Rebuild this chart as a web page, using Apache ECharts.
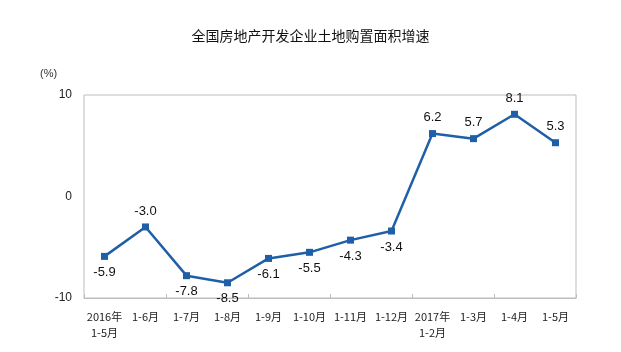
<!DOCTYPE html>
<html>
<head>
<meta charset="utf-8">
<script src="https://cdn.jsdelivr.net/npm/echarts@6/dist/echarts.min.js"></script>
<style>
  html, body { margin: 0; padding: 0; background: #fff; }
  #chart { width: 621px; height: 352px; }
</style>
</head>
<body>
<div id="chart"></div>
<script>
// 月份（累计）
var categories = ['2016年\n1-5月', '1-6月', '1-7月', '1-8月', '1-9月', '1-10月', '1-11月', '1-12月', '2017年\n1-2月', '1-3月', '1-4月', '1-5月']
// 土地购置面积增速（%）
var growth = [-5.9, -3.0, -7.8, -8.5, -6.1, -5.5, -4.3, -3.4, 6.2, 5.7, 8.1, 5.3]
var yTicks = [-10, 0, 10]

var myChart = echarts.init(document.getElementById('chart'))

// 数据标签放在点上方的那些
var above = [1, 8, 9, 10, 11]
var seriesData = growth.map(function (v, i) {
  return {
    value: v,
    label: { position: above.indexOf(i) >= 0 ? 'top' : 'bottom' }
  }
})

var option = {
  animation: false,
  title: {
    text: '全国房地产开发企业土地购置面积增速',
    left: 'center',
    top: 24,
    textStyle: {
      fontFamily: 'Noto Sans CJK SC',
      fontSize: 14,
      fontWeight: 'normal',
      color: '#111'
    }
  },
  graphic: [
    {
      type: 'text',
      left: 40,
      top: 68,
      style: { text: '(%)', fontSize: 11, fill: '#333', fontFamily: 'Liberation Sans' }
    }
  ],
  grid: {
    left: 84,
    right: 45,
    top: 95,
    bottom: 54,
    show: true,
    borderColor: '#bdbdbd',
    borderWidth: 1
  },
  xAxis: [
    {
      type: 'category',
      data: categories,
      position: 'bottom',
      axisLine: { show: false },
      axisTick: { show: false },
      axisLabel: {
        interval: 0,
        margin: 11,
        fontSize: 11,
        lineHeight: 16,
        color: '#222',
        fontFamily: 'Noto Sans CJK SC'
      }
    },
    {
      type: 'category',
      data: categories,
      position: 'bottom',
      axisLine: { show: true, onZero: true, lineStyle: { color: '#bdbdbd', width: 1 } },
      axisTick: { show: true, inside: true, length: 4, lineStyle: { color: '#bdbdbd' } },
      axisLabel: { show: false }
    }
  ],
  yAxis: {
    type: 'value',
    min: yTicks[0],
    max: yTicks[yTicks.length - 1],
    interval: 10,
    splitLine: { show: false },
    axisLine: { show: false },
    axisTick: { show: false },
    axisLabel: {
      margin: 12,
      fontSize: 12,
      color: '#222',
      fontFamily: 'Liberation Sans'
    }
  },
  series: [
    {
      type: 'line',
      xAxisIndex: 0,
      data: seriesData,
      symbol: 'rect',
      symbolSize: 7,
      lineStyle: { color: '#1f5fa8', width: 2.5 },
      itemStyle: { color: '#1f5fa8' },
      label: {
        show: true,
        distance: 6,
        fontSize: 13,
        color: '#111',
        fontFamily: 'Liberation Sans',
        formatter: function (p) {
          return p.value.toFixed(1)
        }
      }
    }
  ]
}

myChart.setOption(option)
</script>
</body>
</html>
